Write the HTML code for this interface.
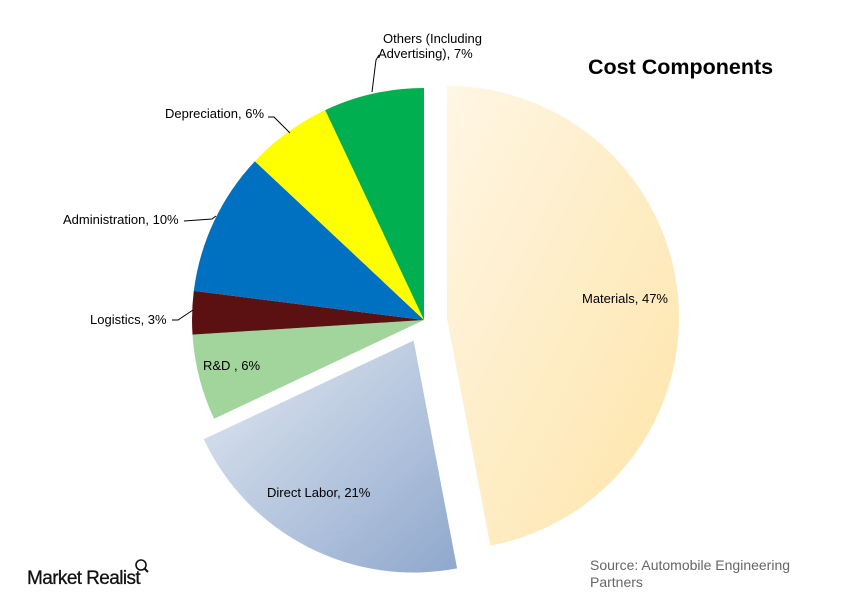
<!DOCTYPE html>
<html><head><meta charset="utf-8"><style>
body{margin:0;background:#fff;}
svg{display:block;font-family:"Liberation Sans",Arial,sans-serif;}
</style></head><body>
<svg width="847" height="602" viewBox="0 0 847 602">
<defs>
<linearGradient id="gm" x1="0" y1="0" x2="1" y2="1">
<stop offset="0" stop-color="#fff6e4"/><stop offset="1" stop-color="#fde4a8"/></linearGradient>
<linearGradient id="gd" x1="0" y1="0" x2="1" y2="1">
<stop offset="0" stop-color="#e3e9f2"/><stop offset="1" stop-color="#8fa8cd"/></linearGradient>
</defs>
<path d="M446.9,317.8 L446.9,85.8 A232,232 0 0 1 490.4,545.7 Z" fill="url(#gm)"/>
<path d="M413.6,340.5 L457.1,568.4 A232,232 0 0 1 203.7,439.3 Z" fill="url(#gd)"/>
<path d="M424,320 L214.1,418.8 A232,232 0 0 1 192.5,334.6 Z" fill="#a2d59c"/>
<path d="M424,320 L192.5,334.6 A232,232 0 0 1 193.8,290.9 Z" fill="#5b1112"/>
<path d="M424,320 L193.8,290.9 A232,232 0 0 1 254.9,161.2 Z" fill="#0070c0"/>
<path d="M424,320 L254.9,161.2 A232,232 0 0 1 325.2,110.1 Z" fill="#ffff00"/>
<path d="M424,320 L325.2,110.1 A232,232 0 0 1 424,88 Z" fill="#00b050"/>
<g stroke="#000" stroke-width="1" fill="none">
<polyline points="379,55 376,60 372,92"/>
<polyline points="268,117 274,117 290,133"/>
<polyline points="184,221 212,219 216,216"/>
<polyline points="172,320 178,320 193,310"/>
</g>
<g font-size="13" fill="#000">
<text x="383" y="43">Others (Including</text>
<text x="378" y="58">Advertising), 7%</text>
<text x="165" y="118">Depreciation, 6%</text>
<text x="63" y="224">Administration, 10%</text>
<text x="90" y="324">Logistics, 3%</text>
<text x="203" y="370">R&amp;D , 6%</text>
<text x="582" y="303">Materials, 47%</text>
<text x="267" y="497">Direct Labor, 21%</text>
</g>
<text x="588" y="74" font-size="21.5" font-weight="bold">Cost Components</text>
<text x="590" y="570" font-size="14" fill="#666">Source: Automobile Engineering</text>
<text x="590" y="587" font-size="14" fill="#666">Partners</text>
<text x="27" y="584" font-size="19" fill="#111" letter-spacing="-0.6" stroke="#111" stroke-width="0.3">Market Realist</text>
<circle cx="141" cy="565" r="5" fill="none" stroke="#111" stroke-width="1.6"/>
<line x1="144.5" y1="568.5" x2="148" y2="572" stroke="#111" stroke-width="2"/>
</svg>
</body></html>
